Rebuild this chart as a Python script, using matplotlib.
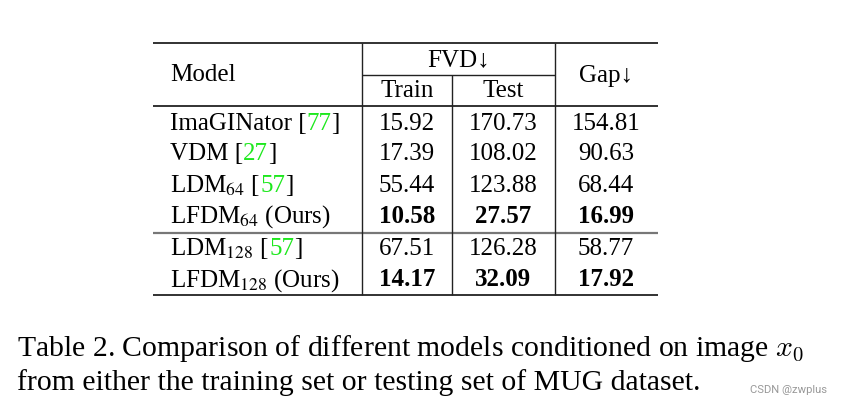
import matplotlib
matplotlib.use("Agg")
import matplotlib.pyplot as plt

plt.rcParams['mathtext.fontset'] = 'stix'

models = ["ImaGINator", "VDM", "LDM$_{64}$", "LFDM$_{64}$ (Ours)", "LDM$_{128}$", "LFDM$_{128}$ (Ours)"]
refs = ["77", "27", "57", None, "57", None]
train = ["15.92", "17.39", "55.44", "10.58", "67.51", "14.17"]
test = ["170.73", "108.02", "123.88", "27.57", "126.28", "32.09"]
gap = ["154.81", "90.63", "68.44", "16.99", "58.77", "17.92"]
bold = [False, False, False, True, False, True]
caption1 = "Table 2. Comparison of different models conditioned on image $x_0$"
caption2 = "from either the training set or testing set of MUG dataset."
watermark = "CSDN @zwplus"

W, H = 843, 405
fig = plt.figure(figsize=(W / 100, H / 100), dpi=100)
ax = fig.add_axes([0, 0, 1, 1])
ax.set_xlim(0, W)
ax.set_ylim(H, 0)
ax.axis('off')

SERIF = 'Liberation Serif'
FS = 18
GREEN = '#1ee81e'

# table geometry
x_left, x_right = 153, 658
x_c1, x_c2, x_c3 = 362, 452, 555
y_top, y_sub, y_head, y_mid, y_bot = 43, 74.5, 106, 232.5, 295
row_base = [130, 160.5, 192, 223, 255, 286.5]
col_centers = [407, 503, 606]

lc = '#222222'
for y, lw in [(y_top, 1.3), (y_head, 1.3), (y_bot, 1.3)]:
    ax.plot([x_left, x_right], [y, y], color=lc, lw=lw, solid_capstyle='butt')
ax.plot([x_left, x_right], [y_mid, y_mid], color='#777777', lw=1.6, solid_capstyle='butt')
ax.plot([x_c1, x_c3], [y_sub, y_sub], color=lc, lw=1.0, solid_capstyle='butt')
for x in [x_c1, x_c3]:
    ax.plot([x, x], [y_top, y_bot], color=lc, lw=1.0, solid_capstyle='butt')
ax.plot([x_c2, x_c2], [y_sub, y_bot], color=lc, lw=1.0, solid_capstyle='butt')

txt = dict(family=SERIF, fontsize=FS, color='black')
ax.text(170, 81, "Model", ha='left', va='baseline', **txt)
ax.text((x_c1 + x_c3) / 2, 66, "FVD\u2193", ha='center', va='baseline', **txt)
ax.text(col_centers[0], 97, "Train", ha='center', va='baseline', **txt)
ax.text(col_centers[1], 97, "Test", ha='center', va='baseline', **txt)
ax.text(col_centers[2], 82, "Gap\u2193", ha='center', va='baseline', **txt)

fig.canvas.draw()
renderer = fig.canvas.get_renderer()

def width_of(t):
    return t.get_window_extent(renderer).width

for i, (m, r) in enumerate(zip(models, refs)):
    y = row_base[i]
    x = 170
    if r is None:
        ax.text(x, y, m, ha='left', va='baseline', **txt)
    else:
        t1 = ax.text(x, y, m + " [", ha='left', va='baseline', **txt)
        x += width_of(t1)
        t2 = ax.text(x, y, r, ha='left', va='baseline', family=SERIF, fontsize=FS, color=GREEN)
        x += width_of(t2)
        ax.text(x, y, "]", ha='left', va='baseline', **txt)
    w = 'bold' if bold[i] else 'normal'
    for cx, vals in zip(col_centers, [train, test, gap]):
        ax.text(cx, y, vals[i], ha='center', va='baseline', family=SERIF,
                fontsize=FS, fontweight=w, color='black')

ax.text(17, 356.5, caption1, ha='left', va='baseline', family=SERIF, fontsize=21.4,
        color='black', math_fontfamily='cm')
ax.text(17, 390, caption2, ha='left', va='baseline', family=SERIF, fontsize=21.4, color='black')
ax.text(827, 393, watermark, ha='right', va='baseline', family='Roboto', fontsize=8.1, color='#999999')

fig.savefig("out.png", dpi=100)
